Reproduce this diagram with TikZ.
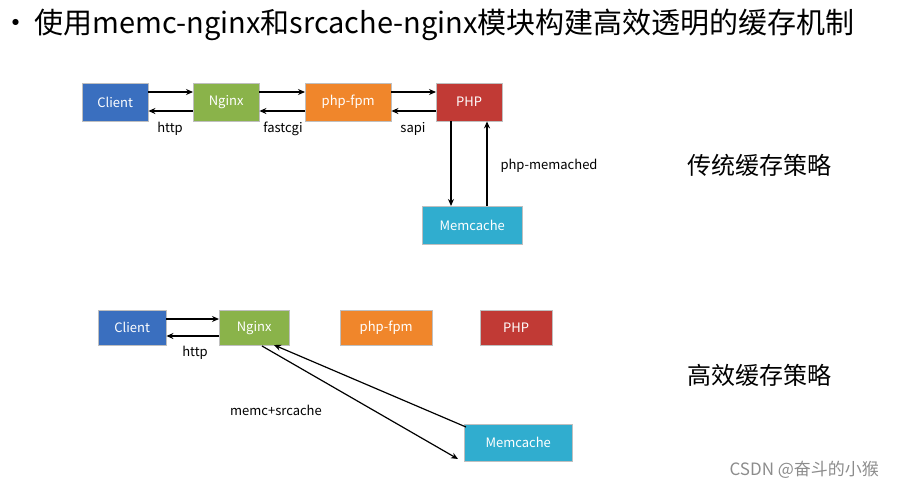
\documentclass[tikz,border=0pt]{standalone}
\usepackage{fontspec}
\setmainfont{Noto Sans CJK SC}
\usetikzlibrary{arrows.meta}
\definecolor{cblue}{HTML}{3A6FBF}
\definecolor{cgreen}{HTML}{8AB34A}
\definecolor{corange}{HTML}{F0862B}
\definecolor{cred}{HTML}{C13A35}
\definecolor{ccyan}{HTML}{30ADCF}
\begin{document}
\begin{tikzpicture}[x=1pt,y=-1pt,
 box/.style={draw=black!25,fill=#1,text=white,font=\fontsize{13}{15}\selectfont,inner sep=0,anchor=north west},
 ar/.style={-{Stealth[length=7pt,width=6pt]},line width=1.2pt},
 lb/.style={font=\fontsize{13}{15}\selectfont},
 big/.style={font=\fontsize{24}{28}\selectfont}]
\useasboundingbox (0,0) rectangle (915,490);
\node[anchor=west,font=\fontsize{29}{34}\selectfont] (title) at (-2,25) {•\hspace{4pt}使用memc-nginx和srcache-nginx模块构建高效透明的缓存机制};
% top
\node[box=cblue,minimum width=66,minimum height=38] (c1) at (82,83) {Client};
\node[box=cgreen,minimum width=66,minimum height=38] (n1) at (193,83) {Nginx};
\node[box=corange,minimum width=86,minimum height=38] (f1) at (305,83) {php-fpm};
\node[box=cred,minimum width=66,minimum height=38] (p1) at (436,83) {PHP};
\node[box=ccyan,minimum width=100,minimum height=38] (m1) at (422,206) {Memcache};
\draw[ar] (c1.east|-0,92) -- (n1.west|-0,92);
\draw[ar] (n1.west|-0,111) -- (c1.east|-0,111);
\draw[ar] (n1.east|-0,92) -- (f1.west|-0,92);
\draw[ar] (f1.west|-0,111) -- (n1.east|-0,111);
\draw[ar] (f1.east|-0,92) -- (p1.west|-0,92);
\draw[ar] (p1.west|-0,111) -- (f1.east|-0,111);
\draw[ar] (p1.south-|451,0) -- (m1.north-|451,0);
\draw[ar] (m1.north-|487,0) -- (p1.south-|487,0);
\node[lb] (l1) at (170,129) {http};
\node[lb] (l2) at (283,129) {fastcgi};
\node[lb] (l3) at (413,129) {sapi};
\node[lb,anchor=west] (l4) at (497,166) {php-memached};
\node[big,anchor=west] (s1) at (684,165) {传统缓存策略};
% bottom
\node[box=cblue,minimum width=68,minimum height=35] (c2) at (98,310) {Client};
\node[box=cgreen,minimum width=70,minimum height=35] (n2) at (219,310) {Nginx};
\node[box=corange,minimum width=92,minimum height=35] (f2) at (340,310) {php-fpm};
\node[box=cred,minimum width=72,minimum height=35] (p2) at (480,310) {PHP};
\node[box=ccyan,minimum width=108,minimum height=37] (m2) at (464,424) {Memcache};
\draw[ar] (c2.east|-0,319) -- (n2.west|-0,319);
\draw[ar] (n2.west|-0,336) -- (c2.east|-0,336);
\draw[ar] (m2.north west)++(2,3) coordinate (a1) (a1) -- (274,345);
\draw[ar] (262,346) coordinate (a2) -- (458,459);
\node[lb] (l5) at (195,353) {http};
\node[lb] (l6) at (276,410) {memc+srcache};
\node[big,anchor=west] (s2) at (684,375) {高效缓存策略};
\node[anchor=west,text=black!45,font=\fontsize{17}{20}\selectfont] (wm) at (726,470) {CSDN @奋斗的小猴};
\end{tikzpicture}
\end{document}
